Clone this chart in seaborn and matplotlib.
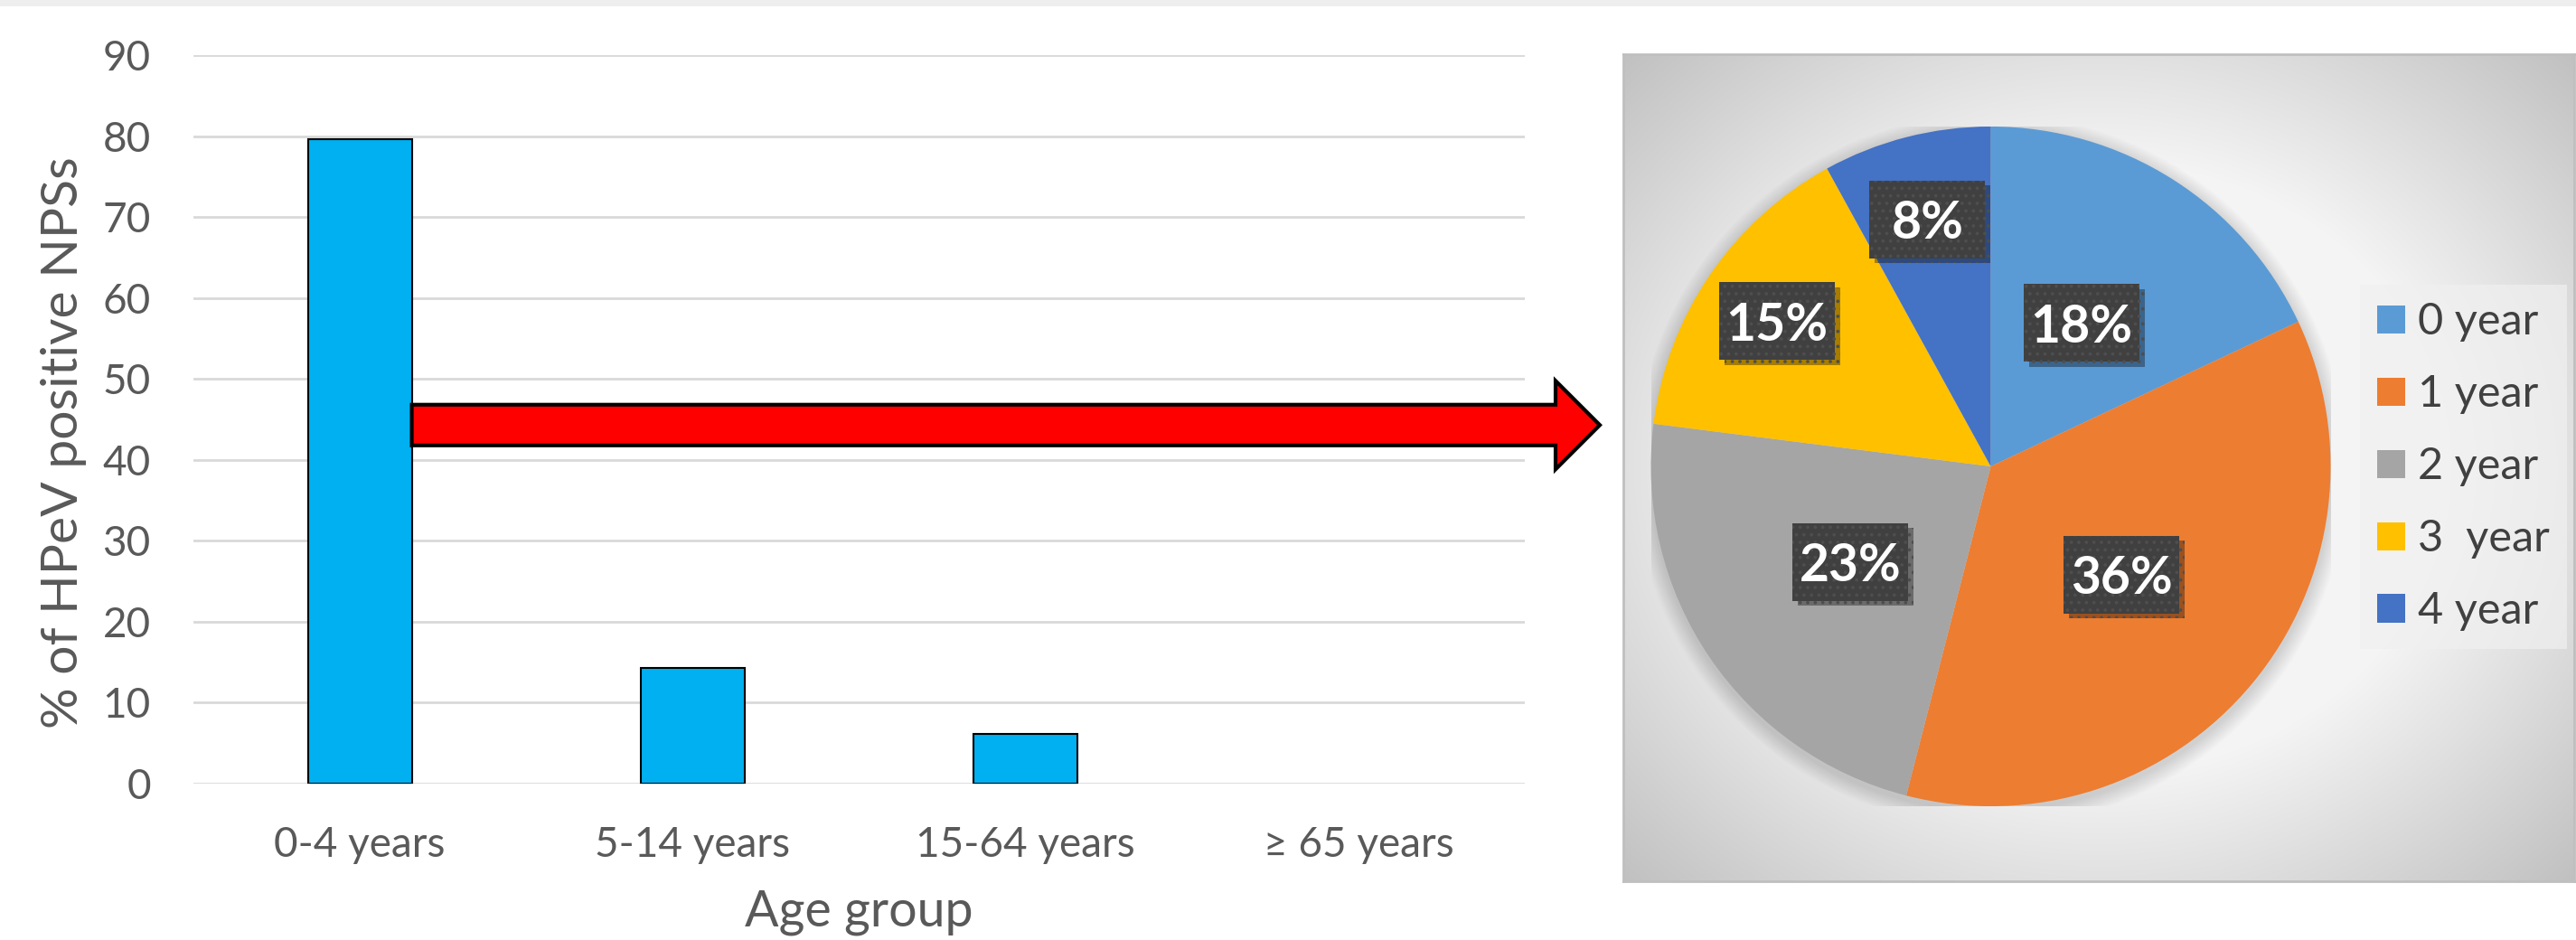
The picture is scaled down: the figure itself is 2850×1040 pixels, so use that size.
import numpy as np
import pandas as pd
import matplotlib
matplotlib.use("Agg")
import matplotlib.pyplot as plt
import seaborn as sns
from matplotlib.patches import Polygon, Rectangle, Circle
import matplotlib.patheffects as pe

# ---------------- data ----------------
age_groups = ["0-4 years", "5-14 years", "15-64 years", "\u2265 65 years"]
pct_positive = [79.6, 14.3, 6.1, 0.0]
y_ticks = [0, 10, 20, 30, 40, 50, 60, 70, 80, 90]

pie_labels = ["0 year", "1 year", "2 year", "3  year", "4 year"]
pie_values = [18, 36, 23, 15, 8]
pie_colors = ["#5B9BD5", "#ED7D31", "#A5A5A5", "#FFC000", "#4472C4"]
label_dist = [0.5, 0.5, 0.5, 0.76, 0.75]

sns.set_theme(style="white")
plt.rcParams['font.family'] = ['Lato', 'DejaVu Sans']
plt.rcParams['hatch.linewidth'] = 1.5

W, H = 2850, 1040
fig = plt.figure(figsize=(W / 100, H / 100), dpi=100)
fig.patch.set_facecolor("white")


def fx(px):
    return px / W


def fy(py):
    return 1 - py / H


# thin grey strip at the very top
fig.add_artist(Rectangle((0, fy(7)), 1, 7 / H, transform=fig.transFigure,
                         facecolor="#eeeeee", edgecolor="none", zorder=0))

# ---------------- bar chart ----------------
ax = fig.add_axes([fx(214), fy(867), fx(1687) - fx(214), fy(61) - fy(867)])
df = pd.DataFrame({"age": age_groups, "pct": pct_positive})
sns.barplot(data=df, x="age", y="pct", ax=ax, color="#00B0F0", saturation=1,
            width=0.312, edgecolor="black", linewidth=1.5)
for p in ax.patches:
    if p.get_height() == 0:
        p.set_linewidth(0)
ax.set_xlim(-0.5, len(age_groups) - 0.5)
ax.set_ylim(0, 90)
ax.set_yticks(y_ticks)
ax.set_yticklabels([str(t) for t in y_ticks])
ax.yaxis.grid(True, color="#d9d9d9", linewidth=2)
ax.xaxis.grid(False)
ax.set_axisbelow(True)
for s in ax.spines.values():
    s.set_visible(False)
ax.tick_params(axis="y", length=0, pad=34, labelsize=33, labelcolor="#595959")
ax.tick_params(axis="x", length=0, pad=34, labelsize=33, labelcolor="#595959")
ax.set_xlabel("Age group", fontsize=40, color="#595959", labelpad=20)
ax.set_ylabel("% of HPeV positive NPSs", fontsize=41, color="#595959")
ax.yaxis.set_label_coords(-0.080, 0.468)

# ---------------- arrow (decoration) ----------------
fig.canvas.draw()
bar_right = ax.patches[0].get_x() + ax.patches[0].get_width()
x0, yc = ax.transData.transform((bar_right, 44.3))
tip_x = 1770
head_x = 1721
bh = 22.5
hh = 49
pts_px = [(x0, yc + bh), (head_x, yc + bh), (head_x, yc + hh), (tip_x, yc),
          (head_x, yc - hh), (head_x, yc - bh), (x0, yc - bh)]
pts_fig = fig.transFigure.inverted().transform(pts_px)
fig.add_artist(Polygon(pts_fig, closed=True, transform=fig.transFigure,
                       facecolor="#FF0000", edgecolor="black", linewidth=3,
                       joinstyle="miter", zorder=5))

# ---------------- pie panel background ----------------
px0, px1, py0, py1 = 1796, 2848, 60, 975
bg = fig.add_axes([fx(px0), fy(py1), (px1 - px0) / W, (py1 - py0) / H])
nx, ny = 400, 350
xx, yy = np.meshgrid(np.linspace(-1, 1, nx), np.linspace(-1, 1, ny))
r = np.sqrt(xx ** 2 + yy ** 2)
val = np.clip(1.0 - 0.3 * (r - 0.6), 0.75, 0.96)
bg.imshow(np.dstack([val, val, val]), extent=(0, 1, 0, 1), aspect="auto",
          interpolation="bilinear")
bg.set_xlim(0, 1)
bg.set_ylim(0, 1)
bg.set_xticks([])
bg.set_yticks([])
for s in bg.spines.values():
    s.set_edgecolor("#bfbfbf")
    s.set_linewidth(2)

# ---------------- pie ----------------
cx, cy, rad = 2202.5, 516, 376
pax = fig.add_axes([fx(cx - rad), fy(cy + rad), 2 * rad / W, 2 * rad / H])
pax.set_facecolor("none")
for k in range(12):
    pax.add_patch(Circle((0, -0.012), 1.0 + 0.004 * (k + 1), facecolor="black",
                         edgecolor="none", alpha=0.012, zorder=0))
wedges, _ = pax.pie(pie_values, colors=pie_colors, startangle=90,
                    counterclock=False, radius=1,
                    wedgeprops=dict(linewidth=0))
pax.set_xlim(-1, 1)
pax.set_ylim(-1, 1)
pax.set_aspect("equal")
pax.axis("off")

u = 2.0 / (2 * rad)          # data units per pixel in the pie axes
box_w, box_h = 128 * u, 86 * u
for w, v, d in zip(wedges, pie_values, label_dist):
    th = np.deg2rad((w.theta1 + w.theta2) / 2)
    lx, ly = d * np.cos(th), d * np.sin(th)
    box = Rectangle((lx - box_w / 2, ly - box_h / 2), box_w, box_h,
                    facecolor="#404040", edgecolor="#4e4e4e", linewidth=0,
                    hatch="..", zorder=9)
    box.set_path_effects(
        [pe.SimplePatchShadow(offset=(4, -4), shadow_rgbFace="black", alpha=0.35),
         pe.Normal()])
    pax.add_patch(box)
    pax.text(lx, ly, f"{v}%", ha="center", va="center_baseline", color="white",
             fontsize=41, fontweight="bold", zorder=10)

leg = pax.legend(wedges, pie_labels, loc="upper left",
                 bbox_to_anchor=(fx(2611), fy(315)),
                 bbox_transform=fig.transFigure, borderaxespad=0,
                 fontsize=35, labelcolor="#404040", frameon=True,
                 fancybox=False, handlelength=0.62, handleheight=0.62,
                 labelspacing=0.74, handletextpad=0.3, borderpad=0.4)
fr = leg.get_frame()
fr.set_facecolor("#f0f0f0")
fr.set_alpha(0.7)
fr.set_edgecolor("none")

fig.savefig("out.png", dpi=100)
